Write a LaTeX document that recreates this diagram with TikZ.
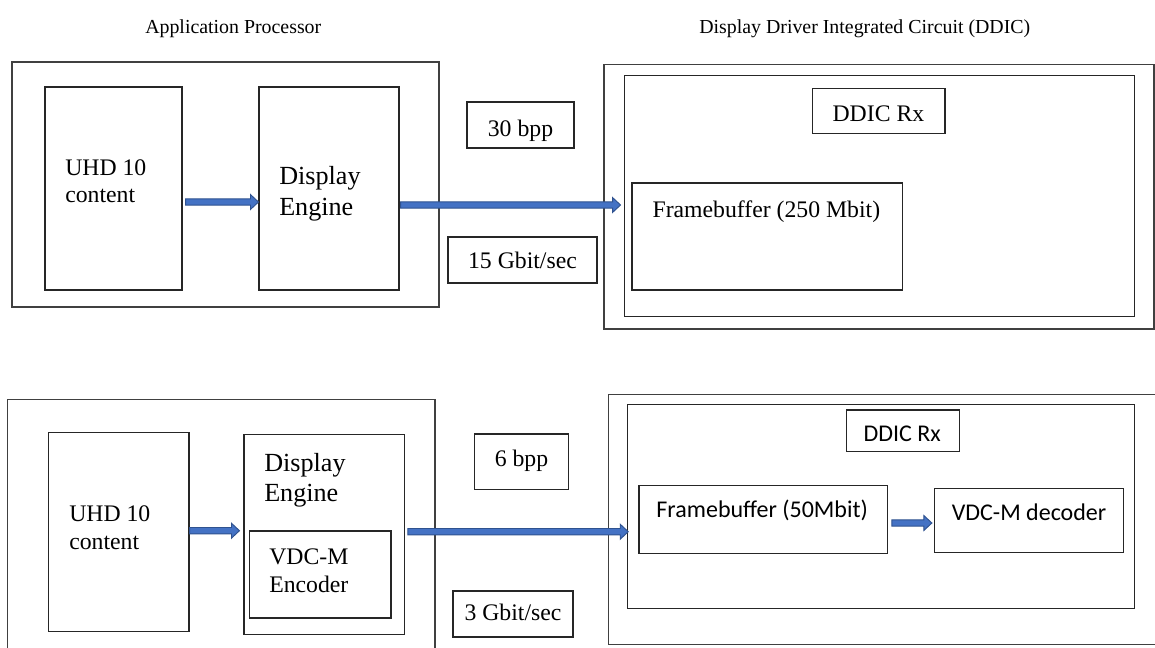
\documentclass[tikz,border=0pt]{standalone}
\usepackage{fontspec}
\setmainfont{Liberation Serif}
\newfontfamily\calibri{Carlito}
\usetikzlibrary{fit,calc}
\definecolor{arrowfill}{HTML}{4472C4}
\definecolor{arrowedge}{HTML}{2F528F}
\definecolor{edge}{HTML}{262626}
\tikzset{
  box/.style={draw=edge, line width=0.8pt, inner sep=0pt},
  outerbox/.style={draw=black!75, line width=1.1pt, inner sep=0pt},
  txt/.style={inner sep=0pt, font=\fontsize{17.8}{20}\selectfont},
  bigtxt/.style={inner sep=0pt, font=\fontsize{19.6}{22}\selectfont},
  caltxt/.style={inner sep=0pt, font=\calibri\fontsize{18}{20}\selectfont},
  titletxt/.style={inner sep=0pt, font=\fontsize{14.9}{18}\selectfont},
  barrow/.style={fill=arrowfill, draw=arrowedge, line width=0.7pt, line join=miter},
}
% block arrow: shaft at the height of the first point, tip at the x of the second
\newcommand\blockarrow[2]{%
  \path[barrow] let \p1=(#1), \p2=(#2) in
    (\x1,\y1+2.4pt) -- (\x2-6pt,\y1+2.4pt) -- (\x2-6pt,\y1+5.6pt) -- (\x2,\y1)
    -- (\x2-6pt,\y1-5.6pt) -- (\x2-6pt,\y1-2.4pt) -- (\x1,\y1-2.4pt) -- cycle;}

\begin{document}
\begin{tikzpicture}[x=0.75pt,y=-0.75pt]
\useasboundingbox (0,0) rectangle (1155,647);
\clip (0,0) rectangle (1155,647);
\fill[white] (0,0) rectangle (1155,647);

% headings
\node[titletxt, anchor=base west] (aptitle) at (145,33) {Application Processor};
\node[titletxt, anchor=base west] (ddictitle) at (699,33) {Display Driver Integrated Circuit (DDIC)};

% ---------- upper system ----------
\node[outerbox, fit={(12,62) (439,307)}] (ap1) {};
\node[box, fit={(45,87) (182,290)}] (uhd1) {};
\node[txt, anchor=base west] (uhd1a) at (65,175) {UHD 10};
\node[txt, anchor=base west] (uhd1b) at (65,202.7) {content};
\node[box, fit={(259,87) (399,290)}] (de1) {};
\node[bigtxt, anchor=base west] (de1a) at (279,184.7) {Display};
\node[bigtxt, anchor=base west] (de1b) at (279,215) {Engine};

\node[box, fit={(467,102) (574,148)}] (bpp1) {};
\node[txt, anchor=base] (bpp1t) at (520.5,136) {30 bpp};
\node[box, fit={(448,237) (597,283)}] (rate1) {};
\node[txt, anchor=base] (rate1t) at (522.5,268) {15 Gbit/sec};

\node[outerbox, fit={(604,64.7) (1154,329)}] (ddic1) {};
\node[box, line width=0.7pt, fit={(624.5,75.7) (1134,316)}] (rx1) {};
\node[box, fit={(812.5,88.5) (945,133.3)}] (rxl1) {};
\node[txt, anchor=base west] (rxl1t) at (832.3,121) {DDIC Rx};
\node[box, fit={(632,183) (902.5,290)}] (fb1) {};
\node[txt, anchor=base west] (fb1t) at (652.3,217.3) {Framebuffer (250 Mbit)};

\blockarrow{$(uhd1.east)+(3,13.5)$}{de1.west}
\blockarrow{$(de1.east)+(1,16.5)$}{$(rx1.west)+(-3.5,0)$}

% ---------- lower system ----------
\node[outerbox, fit={(7.7,399.7) (435,670)}] (ap2) {};
\node[box, fit={(48.7,432.7) (189,631.7)}] (uhd2) {};
\node[txt, anchor=base west] (uhd2a) at (69,521.7) {UHD 10};
\node[txt, anchor=base west] (uhd2b) at (69,549) {content};
\node[box, fit={(244,434.7) (404.3,634.3)}] (de2) {};
\node[bigtxt, anchor=base west] (de2a) at (264,471) {Display};
\node[bigtxt, anchor=base west] (de2b) at (264,501) {Engine};
\node[box, fit={(249.3,531) (391,618)}] (enc) {};
\node[txt, anchor=base west] (enca) at (269,564.3) {VDC-M};
\node[txt, anchor=base west] (encb) at (269,592.7) {Encoder};

\node[box, fit={(474.3,434) (568.7,489.3)}] (bpp2) {};
\node[txt, anchor=base] (bpp2t) at (521.5,466.7) {6 bpp};
\node[box, fit={(453,591) (573,637)}] (rate2) {};
\node[txt, anchor=base] (rate2t) at (513,620) {3 Gbit/sec};

\node[outerbox, fit={(608.3,394.7) (1170,644.5)}] (ddic2) {};
\node[box, line width=0.7pt, fit={(627.7,404.7) (1134.7,608.5)}] (rx2) {};
\node[box, fit={(846.3,410) (959.4,451.7)}] (rxl2) {};
\node[caltxt, anchor=base west] (rxl2t) at (863.3,441) {DDIC Rx};
\node[box, fit={(639,485.7) (887.7,553.7)}] (fb2) {};
\node[caltxt, anchor=base west] (fb2t) at (656.2,517.7) {Framebuffer (50Mbit)};
\node[box, fit={(934.2,488.3) (1123.2,552.7)}] (dec) {};
\node[caltxt, anchor=base west] (dect) at (951.5,520) {VDC-M decoder};

\blockarrow{$(uhd2.east)+(0,-1.5)$}{$(de2.west)+(-4,0)$}
\blockarrow{$(de2.east)+(3,-2.8)$}{$(rx2.west)+(1,0)$}
\blockarrow{$(fb2.east)+(3.6,3.3)$}{$(dec.west)+(-1.8,0)$}
\end{tikzpicture}
\end{document}
